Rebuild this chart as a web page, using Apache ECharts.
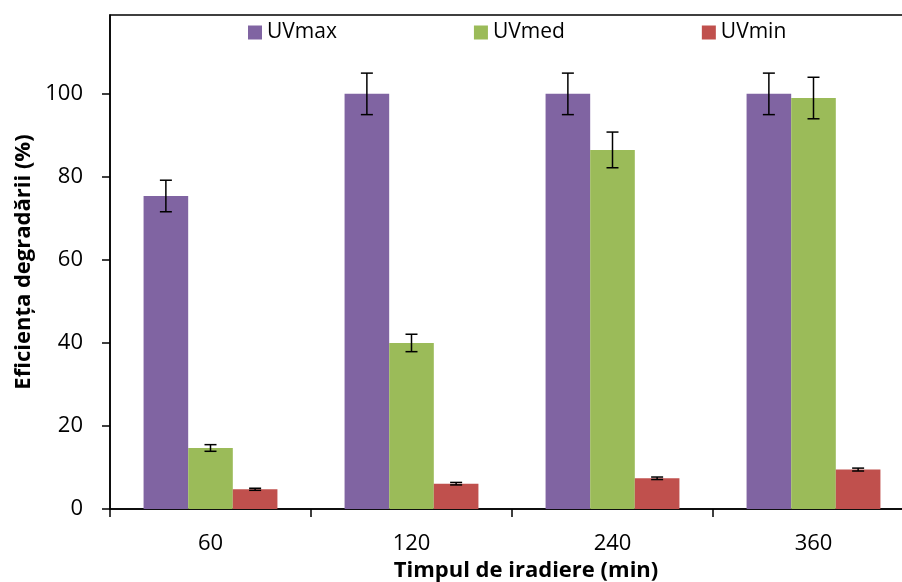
<!DOCTYPE html>
<html>
<head>
<meta charset="utf-8">
<script src="https://cdn.jsdelivr.net/npm/echarts@6/dist/echarts.min.js"></script>
<style>
  html, body { margin: 0; padding: 0; background: #fff; }
  #chart { width: 902px; height: 582px; }
</style>
</head>
<body>
<div id="chart"></div>
<script>
// Irradiation times (min)
const categories = ['60', '120', '240', '360'];

// Degradation efficiency (%) and error bar half-widths per UV intensity
const uvMax = [75.4, 100, 100, 100];
const uvMaxErr = [3.8, 5, 5, 5];
const uvMed = [14.7, 40, 86.5, 99];
const uvMedErr = [0.8, 2.1, 4.3, 5];
const uvMin = [4.75, 6.1, 7.4, 9.5];
const uvMinErr = [0.25, 0.3, 0.3, 0.35];

const yTicks = [0, 20, 40, 60, 80, 100];

const seriesNames = ['UVmax', 'UVmed', 'UVmin'];
const seriesColors = ['#8064A2', '#9BBB59', '#C0504D'];

const FONT = '"Open Sans", "Noto Sans", sans-serif';
const BAR_FRAC = 0.222; // bar width as a fraction of the category band

const values = [uvMax, uvMed, uvMin];
const errors = [uvMaxErr, uvMedErr, uvMinErr];

const barSeries = seriesNames.map((name, k) => ({
  name: name,
  type: 'bar',
  data: values[k],
  barWidth: (BAR_FRAC * 100) + '%',
  barGap: '0%',
  itemStyle: { color: seriesColors[k] },
  z: 2
}));

function errorSeries(k) {
  const data = values[k].map((v, i) => [i, v - errors[k][i], v + errors[k][i]]);
  return {
    type: 'custom',
    name: seriesNames[k] + ' err',
    data: data,
    z: 5,
    silent: true,
    encode: { x: 0, y: [1, 2] },
    renderItem: function (params, api) {
      const idx = api.value(0);
      const lo = api.coord([idx, api.value(1)]);
      const hi = api.coord([idx, api.value(2)]);
      const band = api.size([1, 0])[0];
      const x = lo[0] + (k - 1) * band * BAR_FRAC;
      const cap = 6;
      const style = { stroke: '#000', lineWidth: 1.5 };
      return {
        type: 'group',
        children: [
          { type: 'line', shape: { x1: x, y1: lo[1], x2: x, y2: hi[1] }, style: style },
          { type: 'line', shape: { x1: x - cap, y1: hi[1], x2: x + cap, y2: hi[1] }, style: style },
          { type: 'line', shape: { x1: x - cap, y1: lo[1], x2: x + cap, y2: lo[1] }, style: style }
        ]
      };
    }
  };
}

const chart = echarts.init(document.getElementById('chart'), null, { renderer: 'canvas' });

chart.setOption({
  animation: false,
  backgroundColor: '#fff',
  textStyle: { fontFamily: FONT },
  grid: {
    left: 110, top: 15, right: -12, bottom: 73,
    outerBoundsMode: 'none',
    containLabel: false,
    show: true, borderColor: '#000', borderWidth: 1.5, backgroundColor: 'transparent'
  },
  legend: {
    data: seriesNames,
    left: 248,
    top: 22,
    padding: 0,
    icon: 'rect',
    itemWidth: 14,
    itemHeight: 14,
    itemGap: 137,
    textStyle: { fontFamily: FONT, fontSize: 21, color: '#000' }
  },
  xAxis: {
    type: 'category',
    data: categories,
    name: 'Timpul de iradiere (min)',
    nameLocation: 'middle',
    nameGap: 50,
    nameTextStyle: { fontFamily: FONT, fontSize: 22, fontWeight: 'bold', color: '#000', padding: [0, 0, 0, 28] },
    axisLine: { lineStyle: { color: '#000', width: 1.5 } },
    axisTick: { show: true, length: 8, lineStyle: { color: '#000', width: 1.5 } },
    axisLabel: { fontFamily: FONT, fontSize: 22, color: '#000', margin: 24 },
    splitLine: { show: false }
  },
  yAxis: {
    type: 'value',
    min: 0,
    max: 119,
    interval: 20,
    name: 'Eficiența degradării (%)',
    nameLocation: 'middle',
    nameGap: 72,
    nameTextStyle: { fontFamily: FONT, fontSize: 22, fontWeight: 'bold', color: '#000' },
    axisLine: { show: true, lineStyle: { color: '#000', width: 1.5 } },
    axisTick: { show: true, length: 8, customValues: yTicks, lineStyle: { color: '#000', width: 1.5 } },
    axisLabel: { fontFamily: FONT, fontSize: 22, color: '#000', margin: 27, customValues: yTicks },
    splitLine: { show: false }
  },
  series: barSeries.concat([errorSeries(0), errorSeries(1), errorSeries(2)])
});
</script>
</body>
</html>
